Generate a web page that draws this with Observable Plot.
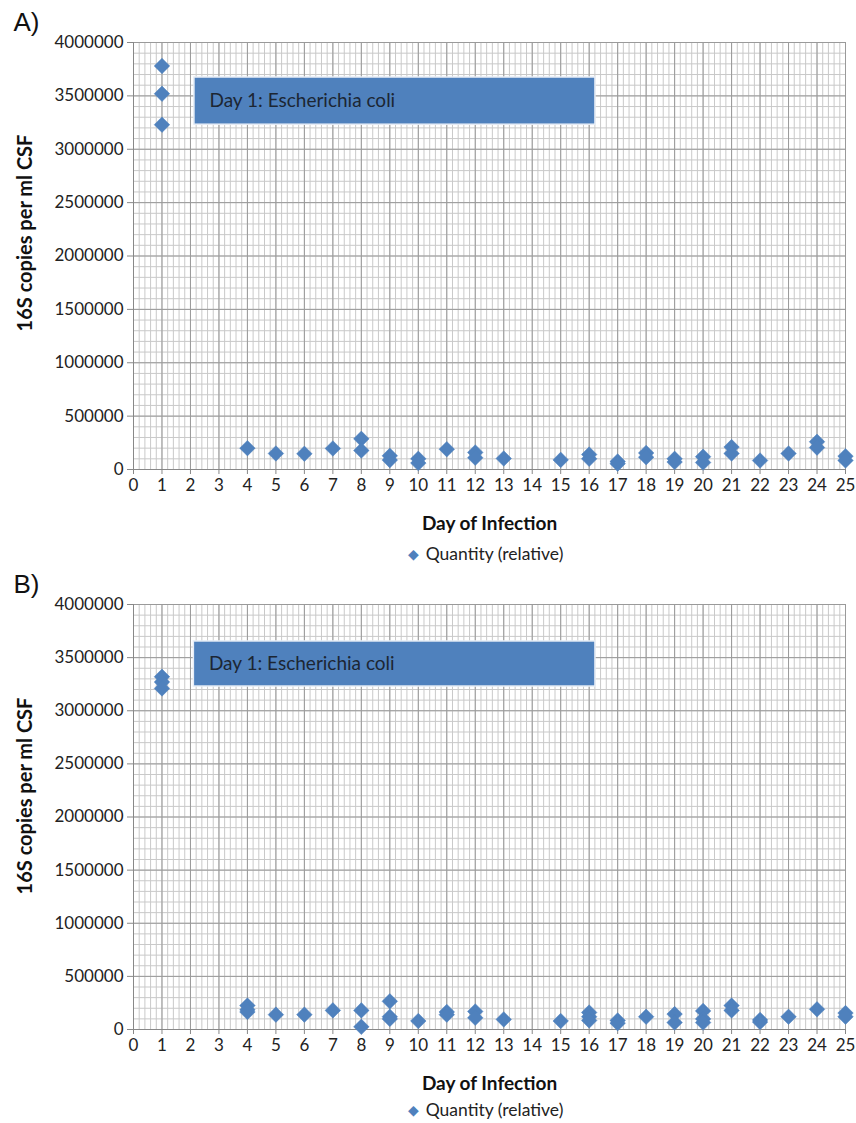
<!DOCTYPE html>
<html>
<head>
<meta charset="utf-8">
<script src="https://cdn.jsdelivr.net/npm/d3@7"></script>
<script src="https://cdn.jsdelivr.net/npm/@observablehq/plot@0.6"></script>
<style>
  html, body { margin: 0; padding: 0; background: #fff; }
  #wrap { position: relative; width: 856px; height: 1123px; background: #fff; overflow: hidden; }
  #wrap svg { position: absolute; left: 0; overflow: visible; }
</style>
</head>
<body>
<div id="wrap"></div>
<script>
// ---- Data ----
const panelLabels = ["A)", "B)"];
const xTitle = "Day of Infection";
const yTitle = "16S copies per ml CSF";
const legendLabel = "Quantity (relative)";
const annotationText = "Day 1: Escherichia coli";

// Panel A: day of infection / 16S copies per ml CSF
const daysA = [1, 1, 1, 4, 5, 6, 7, 8, 8, 9, 9, 10, 10, 11, 12, 12, 13, 15, 16, 16, 17, 17, 18, 18, 19, 19, 20, 20, 21, 21, 22, 23, 24, 24, 25, 25];
const valuesA = [3780000, 3520000, 3230000, 200000, 150000, 147000, 197000, 287000, 178000, 128000, 88000, 100000, 60000, 190000, 160000, 110000, 103000, 90000, 140000, 100000, 75000, 55000, 155000, 115000, 100000, 70000, 120000, 65000, 210000, 150000, 84000, 150000, 260000, 205000, 125000, 85000];

// Panel B
const daysB = [1, 1, 1, 4, 4, 4, 5, 6, 7, 8, 8, 9, 9, 9, 10, 11, 11, 12, 12, 13, 15, 16, 16, 16, 17, 17, 18, 19, 19, 20, 20, 20, 21, 21, 22, 22, 23, 24, 25, 25];
const valuesB = [3320000, 3270000, 3210000, 225000, 185000, 165000, 140000, 140000, 180000, 180000, 25000, 265000, 120000, 100000, 80000, 165000, 140000, 170000, 110000, 95000, 80000, 160000, 120000, 85000, 85000, 60000, 120000, 145000, 65000, 175000, 100000, 65000, 225000, 180000, 90000, 70000, 120000, 190000, 155000, 120000];

// Annotation boxes (data units)
const boxX1 = [2.14, 2.12];
const boxX2 = [16.22, 16.22];
const boxY1 = [3230000, 3228000];
const boxY2 = [3672000, 3652000];

const xTicks = d3.range(0, 26);
const yTicks = d3.range(0, 4000001, 500000);

const blue = "#4F81BD";

function panel(i, days, values, top, height, marginTop, marginBottom, titleDy, legendDy) {
  const data = days.map((d, k) => ({day: d, value: values[k]}));
  const box = [{x1: boxX1[i], x2: boxX2[i], y1: boxY1[i], y2: boxY2[i], text: annotationText}];
  const chart = Plot.plot({
    width: 856,
    height,
    marginLeft: 133,
    marginRight: 11,
    marginTop,
    marginBottom,
    style: {fontFamily: "Lato, sans-serif", fontSize: "17px", color: "#222", background: "transparent"},
    x: {domain: [0, 25], ticks: xTicks, label: null},
    y: {domain: [0, 4000000], ticks: yTicks, label: null, tickFormat: d3.format("d")},
    marks: [
      Plot.gridX({ticks: d3.range(0, 25.001, 0.2), stroke: "#c9c9c9", strokeOpacity: 1, strokeWidth: 1}),
      Plot.gridY({ticks: d3.range(0, 4000001, 100000), stroke: "#c9c9c9", strokeOpacity: 1, strokeWidth: 1}),
      Plot.gridX({ticks: xTicks, stroke: "#9a9a9a", strokeOpacity: 1, strokeWidth: 1}),
      Plot.gridY({ticks: yTicks, stroke: "#9a9a9a", strokeOpacity: 1, strokeWidth: 1}),
      Plot.axisX({ticks: xTicks, tickSize: 5, tickPadding: 4, stroke: "#888", fontSize: 17, label: null}),
      Plot.axisY({ticks: yTicks, tickSize: 6, tickPadding: 4, stroke: "#888", fontSize: 17, label: null, tickFormat: d3.format("d")}),
      Plot.ruleX([0], {stroke: "#888"}),
      Plot.ruleY([0], {stroke: "#888"}),
      Plot.rect(box, {x1: "x1", x2: "x2", y1: "y1", y2: "y2", fill: blue, stroke: "#e6edf6", strokeWidth: 1.5}),
      Plot.text(box, {x: "x1", y: d => (d.y1 + d.y2) / 2, text: "text", textAnchor: "start", dx: 15, fontSize: 19, fill: "#1c2633"}),
      Plot.dot(data, {x: "day", y: "value", symbol: "diamond2", r: 7, fill: blue, stroke: blue, strokeWidth: 0.5}),
      Plot.text([yTitle], {frameAnchor: "left", rotate: -90, dx: -108, dy: titleDy, textAnchor: "middle", lineAnchor: "middle", fontSize: 20, fontWeight: "bold", fill: "#111"}),
      Plot.text([xTitle], {frameAnchor: "bottom", dy: 54, lineAnchor: "middle", fontSize: 19, fontWeight: "bold", fill: "#111"}),
      Plot.text([legendLabel], {frameAnchor: "bottom", dx: 5, dy: legendDy, lineAnchor: "middle", fontSize: 17.5, fill: "#222"}),
      Plot.text(["\u25C6"], {frameAnchor: "bottom", dx: -76, dy: legendDy, lineAnchor: "middle", fontSize: 14, fill: blue, fontFamily: "DejaVu Sans"}),
      Plot.text([panelLabels[i]], {frameAnchor: "top-left", dx: -120, dy: -30, textAnchor: "start", lineAnchor: "top", fontSize: 26, fill: "#111", fontFamily: "Liberation Sans, Arial, sans-serif"})
    ]
  });
  chart.style.top = top + "px";
  return chart;
}

const wrap = document.getElementById("wrap");
wrap.appendChild(panel(0, daysA, valuesA, 0, 560, 42, 91, -23, 85));
wrap.appendChild(panel(1, daysB, valuesB, 560, 563, 44, 94, -21, 81));
</script>
</body>
</html>
